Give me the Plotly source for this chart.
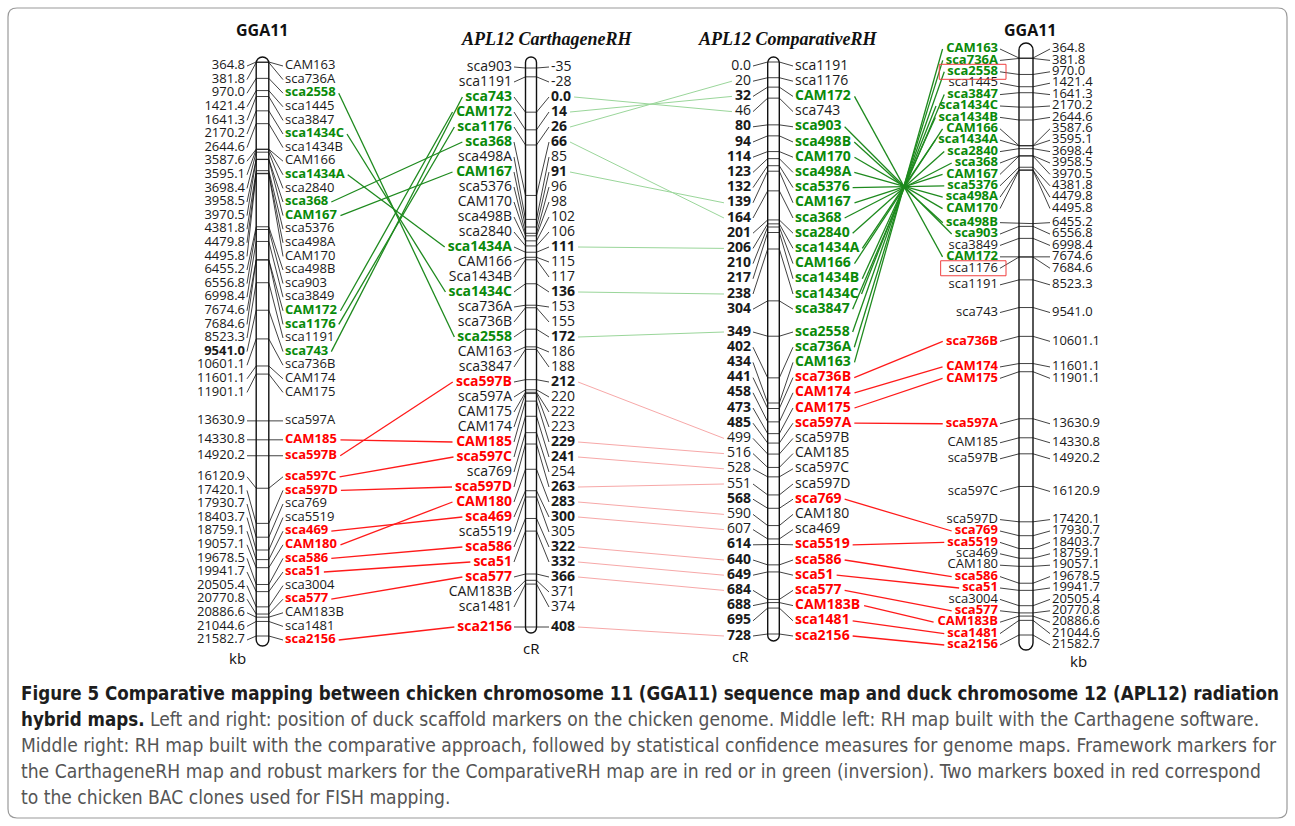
import plotly.graph_objects as go

W, H = 1295, 826

# ---------------- data ----------------
gga_markers = ["CAM163", "sca736A", "sca2558", "sca1445", "sca3847", "sca1434C", "sca1434B", "CAM166",
               "sca1434A", "sca2840", "sca368", "CAM167", "sca5376", "sca498A", "CAM170", "sca498B",
               "sca903", "sca3849", "CAM172", "sca1176", "sca1191", "sca743", "sca736B", "CAM174",
               "CAM175", "sca597A", "CAM185", "sca597B", "sca597C", "sca597D", "sca769", "sca5519",
               "sca469", "CAM180", "sca586", "sca51", "sca3004", "sca577", "CAM183B", "sca1481", "sca2156"]
gga_kb = [364.8, 381.8, 970.0, 1421.4, 1641.3, 2170.2, 2644.6, 3587.6, 3595.1, 3698.4, 3958.5, 3970.5,
          4381.8, 4479.8, 4495.8, 6455.2, 6556.8, 6998.4, 7674.6, 7684.6, 8523.3, 9541.0, 10601.1,
          11601.1, 11901.1, 13630.9, 14330.8, 14920.2, 16120.9, 17420.1, 17930.7, 18403.7, 18759.1,
          19057.1, 19678.5, 19941.7, 20505.4, 20770.8, 20886.6, 21044.6, 21582.7]
# marker class in each GGA11 panel: "inv" = inversion (green), "fw" = framework/robust (red)
gga_left_class = ["", "", "inv", "", "", "inv", "", "", "inv", "", "inv", "inv", "", "", "", "", "", "",
                  "inv", "inv", "", "inv", "", "", "", "", "fw", "fw", "fw", "fw", "", "", "fw", "fw",
                  "fw", "fw", "", "fw", "", "", "fw"]
gga_right_class = ["inv", "inv", "inv", "", "inv", "inv", "inv", "inv", "inv", "inv", "inv", "inv", "inv",
                   "inv", "inv", "inv", "inv", "", "inv", "", "", "", "fw", "fw", "fw", "fw", "", "", "",
                   "", "fw", "fw", "", "", "fw", "fw", "", "fw", "fw", "fw", "fw"]
gga_left_bold_kb = [9541.0]
fish_boxed = ["sca2558", "sca1176"]

carth_markers = ["sca903", "sca1191", "sca743", "CAM172", "sca1176", "sca368", "sca498A", "CAM167",
                 "sca5376", "CAM170", "sca498B", "sca2840", "sca1434A", "CAM166", "Sca1434B", "sca1434C",
                 "sca736A", "sca736B", "sca2558", "CAM163", "sca3847", "sca597B", "sca597A", "CAM175",
                 "CAM174", "CAM185", "sca597C", "sca769", "sca597D", "CAM180", "sca469", "sca5519",
                 "sca586", "sca51", "sca577", "CAM183B", "sca1481", "sca2156"]
carth_cr = [-35, -28, 0, 14, 26, 66, 85, 91, 96, 98, 102, 106, 111, 115, 117, 136, 153, 155, 172, 186,
            188, 212, 220, 222, 223, 229, 241, 254, 263, 283, 300, 305, 322, 332, 366, 371, 374, 408]
carth_class = ["", "", "inv", "inv", "inv", "inv", "", "inv", "", "", "", "", "inv", "", "", "inv", "", "",
               "inv", "", "", "fw", "", "", "", "fw", "fw", "", "fw", "fw", "fw", "", "fw", "fw", "fw",
               "", "", "fw"]

comp_markers = ["sca1191", "sca1176", "CAM172", "sca743", "sca903", "sca498B", "CAM170", "sca498A",
                "sca5376", "CAM167", "sca368", "sca2840", "sca1434A", "CAM166", "sca1434B", "sca1434C",
                "sca3847", "sca2558", "sca736A", "CAM163", "sca736B", "CAM174", "CAM175", "sca597A",
                "sca597B", "CAM185", "sca597C", "sca597D", "sca769", "CAM180", "sca469", "sca5519",
                "sca586", "sca51", "sca577", "CAM183B", "sca1481", "sca2156"]
comp_cr = [0, 20, 32, 46, 80, 94, 114, 123, 132, 139, 164, 201, 206, 210, 217, 238, 304, 349, 402, 434,
           441, 458, 473, 485, 499, 516, 528, 551, 568, 590, 607, 614, 640, 649, 684, 688, 695, 728]
comp_class = ["", "", "inv", "", "inv", "inv", "inv", "inv", "inv", "inv", "inv", "inv", "inv", "inv",
              "inv", "inv", "inv", "inv", "inv", "inv", "fw", "fw", "fw", "fw", "", "", "", "", "fw", "",
              "", "fw", "fw", "fw", "fw", "fw", "fw", "fw"]

titles = ["GGA11", "APL12 CarthageneRH", "APL12 ComparativeRH", "GGA11"]
units = ["kb", "cR", "cR", "kb"]

caption_bold = ["Figure 5 Comparative mapping between chicken chromosome 11 (GGA11) sequence map and duck chromosome 12 (APL12) radiation",
                "hybrid maps.", "", "", ""]
caption_plain = ["",
                 " Left and right: position of duck scaffold markers on the chicken genome. Middle left: RH map built with the Carthagene software.",
                 "Middle right: RH map built with the comparative approach, followed by statistical confidence measures for genome maps. Framework markers for",
                 "the CarthageneRH map and robust markers for the ComparativeRH map are in red or in green (inversion). Two markers boxed in red correspond",
                 "to the chicken BAC clones used for FISH mapping."]

# ---------------- style / layout constants ----------------
TXT = {"inv": "#0a8a0a", "fw": "#ff0000", "": "#1a1a1a"}
LINK = {"inv": "#1e8a1e", "fw": "#ff1a1a"}
PALE = {"inv": "#9ad69a", "fw": "#f7a8a8"}
FONT = "Open Sans, Noto Sans, sans-serif"
FS = 14

COLS = {
    "ggaL": dict(cx=262.5, hw=6.3, t0=62, t1=636, top=57, bot=646, gap=13.6, lo=66, hi=640, dy=0,
                 lx=245, rx=285, fs=13),
    "carth": dict(cx=531, hw=5.5, t0=68, t1=627, top=57, bot=633, gap=15.0, lo=67, hi=627, dy=0,
                  lx=512, rx=551, fs=FS),
    "comp": dict(cx=773.5, hw=5.8, t0=62, t1=634, top=57, bot=641, gap=15.2, lo=66, hi=636, dy=0,
                 lx=751, rx=795, fs=FS),
    "ggaR": dict(cx=1026, hw=7.0, t0=58, t1=635, top=43, bot=650, gap=11.4, lo=49, hi=645, dy=5,
                 lx=998, rx=1052, fs=13),
}

REG = {"a": .556, "c": .479, "s": .473, ".": .267, "-": .322, "A": .633, "B": .648, "C": .631,
       "D": .729, "M": .904, "S": .551}
BLD = {"a": .605, "c": .51, "s": .50, ".": .29, "-": .33, "A": .69, "B": .686, "C": .635,
       "D": .74, "M": .994, "S": .562}


def text_w(s, size, bold=False):
    tbl = BLD if bold else REG
    return sum(tbl.get(ch, .572) for ch in s) * size


def scale(vals, c):
    v0, v1 = min(vals), max(vals)
    return [c["t0"] + (v - v0) * (c["t1"] - c["t0"]) / (v1 - v0) for v in vals]


def spread(ticks, c):
    gap, lo, hi, dy = c["gap"], c["lo"], c["hi"], c["dy"]
    clusters = [[i, i] for i in range(len(ticks))]

    def place(cl):
        s, e = cl
        m = e - s + 1
        mean = sum(ticks[s:e + 1]) / m + dy
        st = mean - (m - 1) * gap / 2
        st = max(st, lo)
        st = min(st, hi - (m - 1) * gap)
        return st

    changed = True
    while changed:
        changed = False
        starts = [place(cl) for cl in clusters]
        for k in range(len(clusters) - 1):
            s, e = clusters[k]
            if starts[k + 1] < starts[k] + (e - s) * gap + gap - 1e-6:
                clusters[k] = [s, clusters[k + 1][1]]
                del clusters[k + 1]
                changed = True
                break
    ys = []
    for cl in clusters:
        st = place(cl)
        ys += [st + j * c["gap"] for j in range(cl[1] - cl[0] + 1)]
    return ys


def fmt_cr(v):
    return "0.0" if v == 0 else str(int(v))


def fmt_kb(v):
    return f"{v:.1f}"


def bold(s, flag):
    return f"<b>{s}</b>" if flag else s


fig = go.Figure()
shapes = []
annotations = []


def chrom_path(c):
    cx, hw, top, bot = c["cx"], c["hw"], c["top"], c["bot"]
    k = 0.5523 * hw
    xl, xr = cx - hw, cx + hw
    return (f"M {xl},{bot - hw} L {xl},{top + hw} C {xl},{top + hw - k} {cx - k},{top} {cx},{top} "
            f"C {cx + k},{top} {xr},{top + hw - k} {xr},{top + hw} L {xr},{bot - hw} "
            f"C {xr},{bot - hw + k} {cx + k},{bot} {cx},{bot} C {cx - k},{bot} {xl},{bot - hw + k} {xl},{bot - hw} Z")


def draw_column(c, ticks, labs, left_txt, left_col, left_bold, right_txt, right_col, right_bold):
    shapes.append(dict(type="path", path=chrom_path(c), xref="x", yref="y", layer="below",
                       line=dict(color="#111111", width=1.4), fillcolor="white"))
    xs, ys = [], []
    xl, xr = c["cx"] - c["hw"], c["cx"] + c["hw"]
    for t, l in zip(ticks, labs):
        xs += [c["lx"] + 2, xl, xr, c["rx"] - 2, None]
        ys += [l, t, t, l, None]
    fig.add_trace(go.Scatter(x=xs, y=ys, mode="lines", line=dict(color="#111111", width=0.8),
                             hoverinfo="skip", showlegend=False))
    fig.add_trace(go.Scatter(x=[c["lx"]] * len(labs), y=labs, mode="text", textposition="middle left",
                             text=[bold(t, b) for t, b in zip(left_txt, left_bold)],
                             textfont=dict(family=FONT, size=c["fs"], color=left_col),
                             hoverinfo="skip", showlegend=False))
    fig.add_trace(go.Scatter(x=[c["rx"]] * len(labs), y=labs, mode="text", textposition="middle right",
                             text=[bold(t, b) for t, b in zip(right_txt, right_bold)],
                             textfont=dict(family=FONT, size=c["fs"], color=right_col),
                             hoverinfo="skip", showlegend=False))


# --- left GGA11 ---
cL = COLS["ggaL"]
tL = scale(gga_kb, cL)
yL = spread(tL, cL)
draw_column(cL, tL, yL,
            [fmt_kb(v) for v in gga_kb], ["#1a1a1a"] * len(gga_kb), [v in gga_left_bold_kb for v in gga_kb],
            gga_markers, [TXT[k] for k in gga_left_class], [k != "" for k in gga_left_class])

# --- CarthageneRH ---
cC = COLS["carth"]
tC = scale(carth_cr, cC)
yC = spread(tC, cC)
draw_column(cC, tC, yC,
            carth_markers, [TXT[k] for k in carth_class], [k != "" for k in carth_class],
            [fmt_cr(v) for v in carth_cr], ["#1a1a1a"] * len(carth_cr), [k != "" for k in carth_class])

# --- ComparativeRH ---
cP = COLS["comp"]
tP = scale(comp_cr, cP)
yP = spread(tP, cP)
draw_column(cP, tP, yP,
            [fmt_cr(v) for v in comp_cr], ["#1a1a1a"] * len(comp_cr), [k != "" for k in comp_class],
            comp_markers, [TXT[k] for k in comp_class], [k != "" for k in comp_class])

# --- right GGA11 ---
cR = COLS["ggaR"]
tR = scale(gga_kb, cR)
yR = spread(tR, cR)
draw_column(cR, tR, yR,
            gga_markers, [TXT[k] for k in gga_right_class], [k != "" for k in gga_right_class],
            [fmt_kb(v) for v in gga_kb], ["#1a1a1a"] * len(gga_kb), [False] * len(gga_kb))


# --- links between maps ---
def add_links(pairs, palette, width):
    for cls in ("inv", "fw"):
        xs, ys = [], []
        for k, x1, y1, x2, y2 in pairs:
            if k == cls:
                xs += [x1, x2, None]
                ys += [y1, y2, None]
        fig.add_trace(go.Scatter(x=xs, y=ys, mode="lines", line=dict(color=palette[cls], width=width),
                                 hoverinfo="skip", showlegend=False))


pairs = []
for i, m in enumerate(gga_markers):
    k = gga_left_class[i]
    if k and m in carth_markers:
        j = carth_markers.index(m)
        pairs.append((k, cL["rx"] + text_w(m, cL["fs"], True) + 3, yL[i],
                      cC["lx"] - text_w(m, cC["fs"], True) - 3, yC[j]))
add_links(pairs, LINK, 1.3)

pairs = []
for i, m in enumerate(carth_markers):
    k = carth_class[i]
    if k and m in comp_markers:
        j = comp_markers.index(m)
        v1, v2 = fmt_cr(carth_cr[i]), fmt_cr(comp_cr[j])
        pairs.append((k, cC["rx"] + text_w(v1, cC["fs"], True) + 3, yC[i],
                      cP["lx"] - text_w(v2, cP["fs"], comp_class[j] != "") - 3, yP[j]))
add_links(pairs, PALE, 1.0)

pairs = []
for i, m in enumerate(comp_markers):
    k = comp_class[i]
    if k and m in gga_markers:
        j = gga_markers.index(m)
        pairs.append((k, cP["rx"] + text_w(m, cP["fs"], True) + 3, yP[i],
                      cR["lx"] - text_w(m, cR["fs"], True) - 3, yR[j]))
add_links(pairs, LINK, 1.3)

# --- FISH boxes ---
for m in fish_boxed:
    j = gga_markers.index(m)
    w = text_w(m, cR["fs"], gga_right_class[j] != "")
    shapes.append(dict(type="rect", xref="x", yref="y", x0=cR["lx"] - w - 8, x1=cR["lx"] + 8,
                       y0=yR[j] - 7.5, y1=yR[j] + 7.5, line=dict(color="#f04040", width=1)))

# --- titles and units ---
title_pos = [(262, 30, False), (547, 39, True), (787, 39, True), (1030, 30, False)]
for t, (x, y, serif) in zip(titles, title_pos):
    if serif:
        annotations.append(dict(x=x, y=y, xref="x", yref="y", showarrow=False,
                                text=f"<b><i>{t}</i></b>",
                                font=dict(family="Liberation Serif, DejaVu Serif, serif", size=18,
                                          color="#111")))
    else:
        annotations.append(dict(x=x, y=y, xref="x", yref="y", showarrow=False, text=f"<b>{t}</b>",
                                font=dict(family=FONT, size=16, color="#111")))
unit_pos = [(237, 658), (531, 648), (740, 656), (1078, 661)]
for u, (x, y) in zip(units, unit_pos):
    annotations.append(dict(x=x, y=y, xref="x", yref="y", showarrow=False, text=u,
                            font=dict(family=FONT, size=15, color="#111")))

# --- caption ---
cap_font = "DejaVu Sans Condensed, Liberation Sans Narrow, sans-serif"
for n, (b, p) in enumerate(zip(caption_bold, caption_plain)):
    txt = ""
    if b:
        txt += f"<span style='color:#1d1d1d;font-size:18.6px'><b>{b}</b></span>"
    if p:
        txt += p
    annotations.append(dict(x=19, y=693 + 26 * n, xref="x", yref="y", xanchor="left", yanchor="middle",
                            showarrow=False, text=txt, align="left",
                            font=dict(family=cap_font, size=19.1, color="#555555")))

# --- outer frame ---
r = 9
x0, y0, x1, y1 = 8, 8, 1287, 818
shapes.append(dict(type="path", xref="x", yref="y", layer="below",
                   path=(f"M {x0 + r},{y0} L {x1 - r},{y0} Q {x1},{y0} {x1},{y0 + r} L {x1},{y1 - r} "
                         f"Q {x1},{y1} {x1 - r},{y1} L {x0 + r},{y1} Q {x0},{y1} {x0},{y1 - r} "
                         f"L {x0},{y0 + r} Q {x0},{y0} {x0 + r},{y0} Z"),
                   line=dict(color="#9a9a9a", width=1.2), fillcolor="rgba(0,0,0,0)"))

fig.update_layout(
    width=W, height=H, margin=dict(l=0, r=0, t=0, b=0),
    paper_bgcolor="white", plot_bgcolor="white",
    xaxis=dict(range=[0, W], visible=False, fixedrange=True),
    yaxis=dict(range=[H, 0], visible=False, fixedrange=True),
    shapes=shapes, annotations=annotations, showlegend=False,
)

fig.write_html("out.html", config={"displayModeBar": False},
               post_script="document.body.style.margin='0';")
